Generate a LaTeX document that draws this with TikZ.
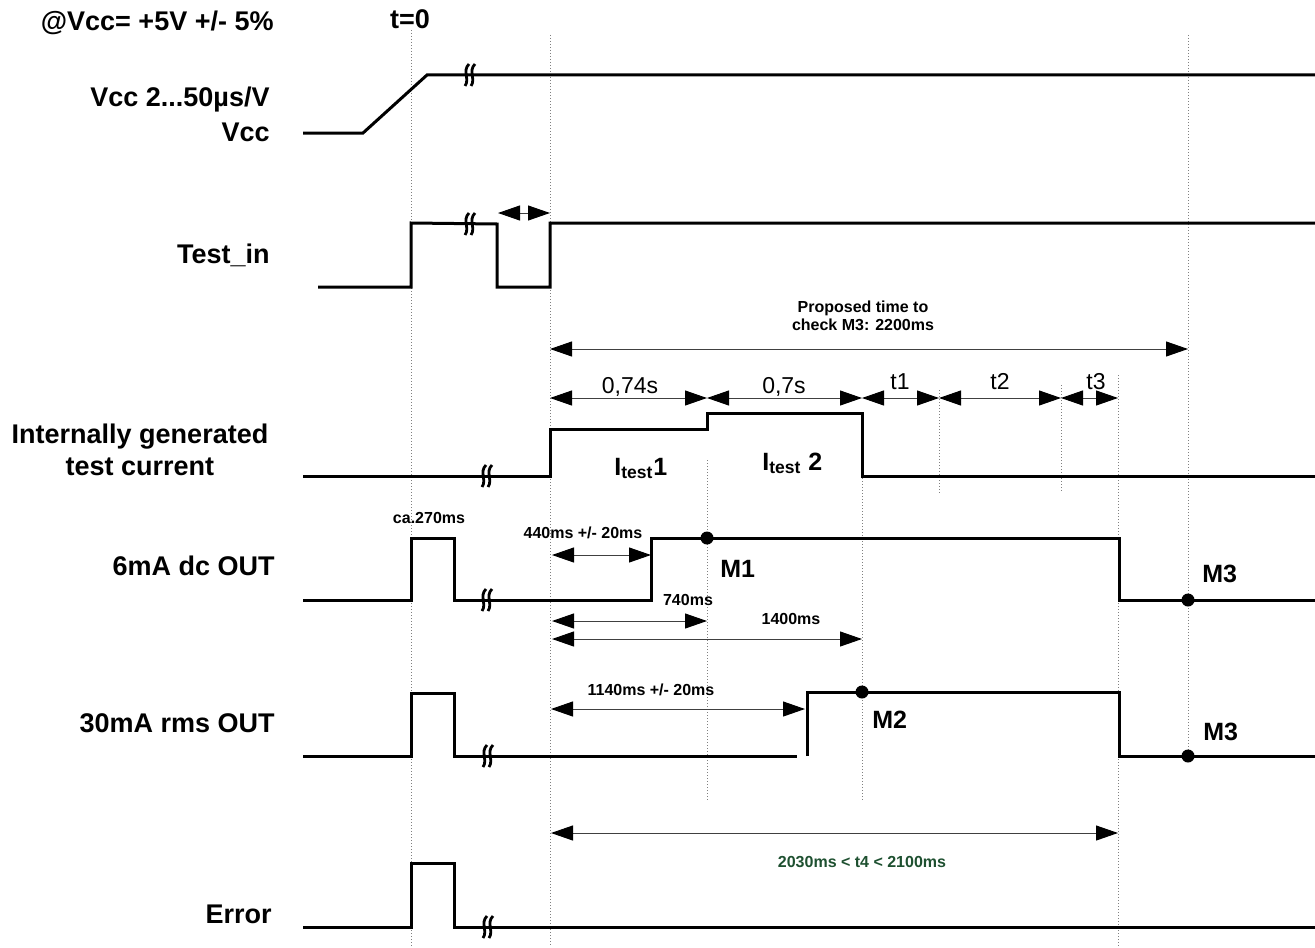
\documentclass[tikz,border=0pt]{standalone}
\usepackage{fontspec}
\setmainfont{Liberation Sans}
\usetikzlibrary{positioning}
\usetikzlibrary{arrows.meta}
\definecolor{dimgreen}{RGB}{30,80,48}
\tikzset{
    sig/.style = {line width=1.5pt, line join=miter},
    guide/.style = {gray, densely dotted, line width=0.5pt},
    dimline/.style = {black!75, line width=0.5pt, {Triangle[length=11pt,width=7.5pt,color=black]}-{Triangle[length=11pt,width=7.5pt,color=black]}},
    dot/.style = {circle, fill=black, inner sep=0pt, minimum size=6.5pt},
    biglbl/.style = {inner sep=0pt, font=\fontsize{13.5}{16}\selectfont\bfseries},
    mlbl/.style = {inner sep=0pt, font=\fontsize{12.5}{15}\selectfont\bfseries},
    smalllbl/.style = {inner sep=0pt, font=\fontsize{8}{9}\selectfont\bfseries},
    timelbl/.style = {inner sep=0pt, font=\fontsize{11.5}{13}\selectfont},
    brk/.pic = {
        \draw[line width=1.4pt] (-1,-11) .. controls (-8,-4) and (0,4) .. (-5,11);
        \draw[line width=1.4pt] (5,-11) .. controls (-2,-4) and (6,4) .. (1,11);
    }
}
\begin{document}
\begin{tikzpicture}[x=0.5pt,y=-0.5pt]
\useasboundingbox (0,0) rectangle (1315,947);
%
\draw[guide] (411,30) -- (411,947);
\draw[guide] (550,35) -- (550,947);
\draw[guide] (707,460) -- (707,800);
\draw[guide] (862,478) -- (862,800);
\draw[guide] (939,390) -- (939,493);
\draw[guide] (1061,385) -- (1061,493);
\draw[guide] (1118,375) -- (1118,947);
\draw[guide] (1188,35) -- (1188,755);
%
\node[biglbl, anchor=base east] (hdr) at (274,31) {@Vcc= +5V +/- 5\%};
\node[biglbl, anchor=base] (tzero) at (410,29) {t=0};
\node[biglbl, anchor=base east] (lvcca) at (270,106) {Vcc 2...50µs/V};
\node[biglbl, anchor=base east] (lvccb) at (270,141) {Vcc};
\node[biglbl, anchor=base east] (ltest) at (270,263) {Test\_in};
\node[biglbl, anchor=base] (lcura) at (140,443) {Internally generated};
\node[biglbl, anchor=base] (lcurb) at (140,475) {test current};
\node[biglbl, anchor=base east] (lsix) at (275,575) {6mA dc OUT};
\node[biglbl, anchor=base east] (lthirty) at (275,732) {30mA rms OUT};
\node[biglbl, anchor=base east] (lerr) at (272,923) {Error};
%
\draw[sig] (303,133) -- (363,133) -- (427,75) -- (1315,75);
\pic at (470,75) {brk};
\draw[sig] (318,287) -- (411,287) -- (411,223) -- (497,224) -- (497,287) -- (550,287) -- (550,223) -- (1315,223);
\pic at (470,224) {brk};
\draw[sig] (303,476) -- (550,476) -- (550,429) -- (707,429) -- (707,413) -- (862,413) -- (862,476) -- (1315,476);
\pic at (487,476) {brk};
\draw[sig] (303,600) -- (411,600) -- (411,538) -- (454,538) -- (454,600) -- (651,600) -- (651,538) -- (1119,538) -- (1119,600) -- (1315,600);
\pic at (487,600) {brk};
\draw[sig] (303,756) -- (411,756) -- (411,693) -- (454,693) -- (454,756) -- (797,756);
\draw[sig] (807,756) -- (807,692) -- (1119,692) -- (1119,756) -- (1315,756);
\pic at (488,756) {brk};
\draw[sig] (303,927) -- (411,927) -- (411,863) -- (454,863) -- (454,927) -- (1315,927);
\pic at (488,927) {brk};
%
\node[dot] (m1) at (707,538) {};
\node[dot] (m3a) at (1188,600) {};
\node[dot] (m2) at (862,692) {};
\node[dot] (m3b) at (1188,756) {};
\node[mlbl, anchor=base west] at (720,577) {M1};
\node[mlbl, anchor=base west] at (1202,582) {M3};
\node[mlbl, anchor=base west] at (872,728) {M2};
\node[mlbl, anchor=base west] at (1203,740) {M3};
%
\coordinate (ta) at (498,213);
\coordinate (tb) at (550,213);
\coordinate (pa) at (550,349);
\coordinate (pb) at (1188,349);
\coordinate (da) at (550,398);
\coordinate (db) at (707,398);
\coordinate (dc) at (862,398);
\coordinate (dd) at (939,398);
\coordinate (de) at (1061,398);
\coordinate (df) at (1118,398);
\coordinate (sa) at (552,555);
\coordinate (sb) at (651,555);
\coordinate (sc) at (552,621);
\coordinate (sd) at (707,621);
\coordinate (se) at (552,639);
\coordinate (sf) at (862,639);
\coordinate (ra) at (551,709);
\coordinate (rb) at (805,709);
\coordinate (ea) at (551,833);
\coordinate (eb) at (1118,833);
%
\draw[dimline] (ta) -- (tb);
\draw[dimline] (pa) -- (pb);
\draw[dimline] (da) -- (db);
\draw[dimline] (db) -- (dc);
\draw[dimline] (dc) -- (dd);
\draw[dimline] (dd) -- (de);
\draw[dimline] (de) -- (df);
\draw[dimline] (sa) -- (sb);
\draw[dimline] (sc) -- (sd);
\draw[dimline] (se) -- (sf);
\draw[dimline] (ra) -- (rb);
\draw[dimline] (ea) -- (eb);
%
\node[smalllbl, anchor=base] at (863,312) {Proposed time to};
\node[smalllbl, anchor=base] at (863,330) {check M3: 2200ms};
\node[timelbl, anchor=base] at (630,393) {0,74s};
\node[timelbl, anchor=base] at (784,393) {0,7s};
\node[timelbl, anchor=base] at (900,389) {t1};
\node[timelbl, anchor=base] at (1000,389) {t2};
\node[timelbl, anchor=base] at (1096,389) {t3};
\node[mlbl, anchor=base west] at (614,475) {I\textsubscript{test}1};
\node[mlbl, anchor=base west] at (762,470) {I\textsubscript{test} 2};
\node[smalllbl, anchor=base] at (429,523) {ca.270ms};
\node[smalllbl, anchor=base] at (583,538) {440ms +/- 20ms};
\node[smalllbl, anchor=base] at (688,605) {740ms};
\node[smalllbl, anchor=base] at (791,624) {1400ms};
\node[smalllbl, anchor=base] at (651,695) {1140ms +/- 20ms};
\node[smalllbl, anchor=base, text=dimgreen] at (862,867) {2030ms < t4 < 2100ms};
\end{tikzpicture}
\end{document}
